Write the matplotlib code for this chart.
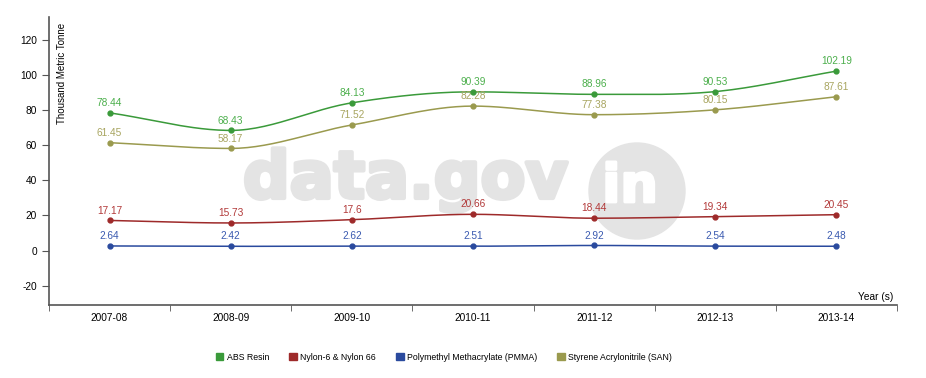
import matplotlib.pyplot as plt
from matplotlib.patches import Ellipse
import matplotlib.patheffects as pe
import numpy as np

plt.rcParams["axes.unicode_minus"] = False
plt.rcParams["font.family"] = ["Liberation Sans", "DejaVu Sans"]

years = ["2007-08", "2008-09", "2009-10", "2010-11", "2011-12", "2012-13", "2013-14"]
abs_resin = [78.44, 68.43, 84.13, 90.39, 88.96, 90.53, 102.19]
nylon = [17.17, 15.73, 17.6, 20.66, 18.44, 19.34, 20.45]
pmma = [2.64, 2.42, 2.62, 2.51, 2.92, 2.54, 2.48]
san = [61.45, 58.17, 71.52, 82.28, 77.38, 80.15, 87.61]

names = ["ABS Resin", "Nylon-6 & Nylon 66", "Polymethyl Methacrylate (PMMA)", "Styrene Acrylonitrile (SAN)"]
colors = ["#3a9a3a", "#9e2a2a", "#2a4a9e", "#9a9a4e"]
text_colors = ["#4caf4c", "#b23a3a", "#3a5ab0", "#a8a560"]


def monotone(x, y, n=30):
    # monotone cubic (like d3 curveMonotoneX), only for drawing the smooth line
    x = np.asarray(x, float)
    y = np.asarray(y, float)
    h = np.diff(x)
    d = np.diff(y) / h
    m = np.zeros_like(y)
    m[0], m[-1] = d[0], d[-1]
    for i in range(1, len(y) - 1):
        if d[i - 1] * d[i] > 0:
            m[i] = (h[i - 1] * d[i] + h[i] * d[i - 1]) / (h[i - 1] + h[i])
    xs, ys = [], []
    for i in range(len(h)):
        t = np.linspace(0, 1, n)
        h00 = 2 * t**3 - 3 * t**2 + 1
        h10 = t**3 - 2 * t**2 + t
        h01 = -2 * t**3 + 3 * t**2
        h11 = t**3 - t**2
        xs.append(x[i] + t * h[i])
        ys.append(h00 * y[i] + h10 * h[i] * m[i] + h01 * y[i + 1] + h11 * h[i] * m[i + 1])
    return np.concatenate(xs), np.concatenate(ys)


fig = plt.figure(figsize=(9.26, 3.78), dpi=100)
ax = fig.add_axes([0.0529, 0.193, 0.9158, 0.762])

# watermark, drawn inside the axes so it sits behind lines and labels
wm = "#e4e4e4"
ax.text(243 / 926, 1 - 198 / 378, "data.gov", transform=fig.transFigure, fontsize=47,
        fontweight="bold", color=wm, ha="left", va="baseline", zorder=0.5,
        family="DejaVu Sans", clip_on=False,
        path_effects=[pe.withStroke(linewidth=3, foreground=wm)])
ax.add_patch(Ellipse((637 / 926, 1 - 191 / 378), 96 / 926, 96 / 378, transform=fig.transFigure,
                     color=wm, zorder=0.5, clip_on=False))
ax.text(630 / 926, 1 - 202 / 378, "in", transform=fig.transFigure, fontsize=38,
        fontweight="bold", color="white", ha="center", va="baseline", zorder=0.6,
        family="DejaVu Sans", clip_on=False,
        path_effects=[pe.withStroke(linewidth=2, foreground="white")])

x = np.arange(len(years))
series = [abs_resin, nylon, pmma, san]
for vals, c, tc in zip(series, colors, text_colors):
    sx, sy = monotone(x, vals)
    ax.plot(sx, sy, color=c, lw=1.1, zorder=3)
    ax.plot(x, vals, "o", color=c, ms=3.5, zorder=4)
    for xi, v in zip(x, vals):
        ax.annotate(f"{v:g}", (xi, v), xytext=(0, 3.5), textcoords="offset points",
                    ha="center", va="bottom", fontsize=7.3, color=tc)

ax.set_xlim(-0.5, len(years) - 0.5)
ax.set_ylim(-31, 133)
ax.set_yticks(range(-20, 121, 20))
ax.set_xticks(x)
ax.set_xticklabels(years, fontsize=7.3)
ax.set_xticks(np.arange(-0.5, len(years)), minor=True)
ax.tick_params(axis="x", which="major", length=0, pad=6)
ax.tick_params(axis="x", which="minor", length=4, color="#555555")
ax.tick_params(axis="y", length=5, color="#555555", labelsize=7.3)
for s in ["top", "right"]:
    ax.spines[s].set_visible(False)
for s in ["left", "bottom"]:
    ax.spines[s].set_color("#555555")
    ax.spines[s].set_linewidth(1.2)
ax.patch.set_alpha(0)

ax.text(0.009, 0.98, "Thousand Metric Tonne", transform=ax.transAxes, rotation=90,
        ha="left", va="top", fontsize=7)
fig.text(893 / 926, 1 - 297 / 378, "Year (s)", ha="right", va="center", fontsize=7.3)

handles = [plt.Rectangle((0, 0), 1, 1, color=c) for c in colors]
fig.legend(handles, names, loc="center", bbox_to_anchor=(444 / 926, 1 - 357 / 378), ncol=4,
           frameon=False, prop={"size": 6.3}, handlelength=0.85, handleheight=0.85,
           columnspacing=2.3, handletextpad=0.4)

fig.savefig("out.png", dpi=100)
